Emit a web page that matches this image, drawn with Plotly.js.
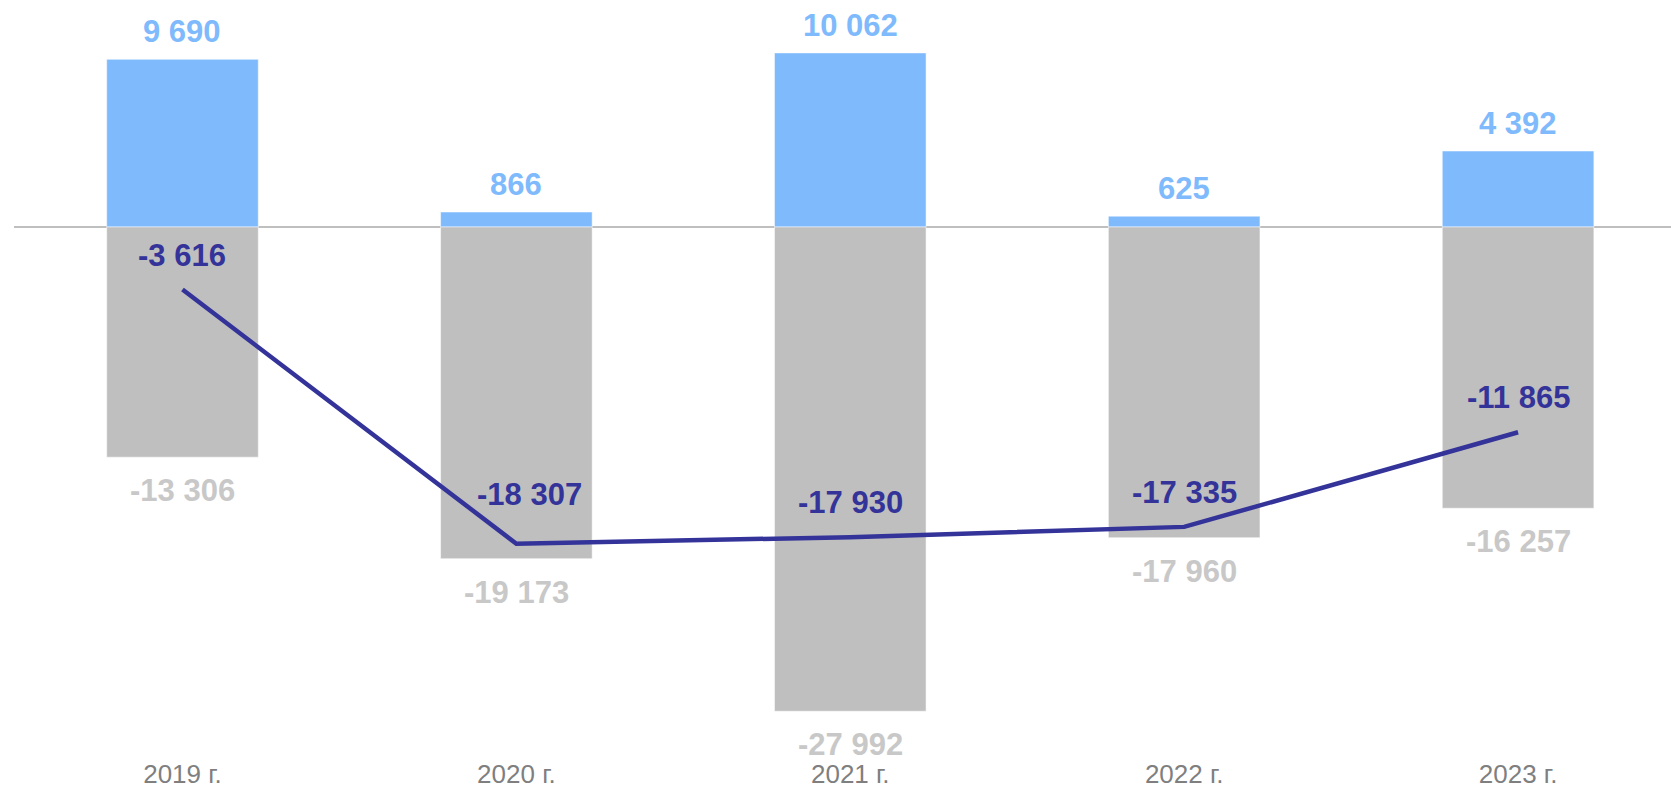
<!DOCTYPE html>
<html>
<head>
<meta charset="utf-8">
<script src="https://cdn.plot.ly/plotly-3.0.1.min.js"></script>
<style>
  html, body { margin: 0; padding: 0; background: #ffffff; }
  #chart { width: 1671px; height: 791px; }
</style>
</head>
<body>
<div id="chart"></div>
<script>
// ---- data ----
var categories = ['2019 г.', '2020 г.', '2021 г.', '2022 г.', '2023 г.'];
var positiveValues = [9690, 866, 10062, 625, 4392];
var negativeValues = [-13306, -19173, -27992, -17960, -16257];
var netValues = [-3616, -18307, -17930, -17335, -11865];

// ---- label nudges for the line labels (pixels) ----
var netLabelDx = [0, 13, 0, 0, 0];
var netLabelDy = [15, 30, 15, 15, 15];

function fmt(v) {
  var s = String(Math.abs(v)).replace(/\B(?=(\d{3})+(?!\d))/g, ' ');
  return (v < 0 ? '-' : '') + s;
}

var FONT = 'Liberation Sans, Arial, sans-serif';
var BLUE = '#7FBAFC';
var GREY = '#BFBFBF';
var GREY_TXT = '#C8C8C8';
var NAVY = '#333399';

var traces = [
  {
    type: 'bar', x: categories, y: positiveValues, width: 0.454,
    marker: { color: BLUE, line: { color: 'rgba(255,255,255,0.5)', width: 1 } },
    hoverinfo: 'skip', showlegend: false
  },
  {
    type: 'bar', x: categories, y: negativeValues, width: 0.454,
    marker: { color: GREY, line: { color: 'rgba(255,255,255,0.5)', width: 1 } },
    hoverinfo: 'skip', showlegend: false
  },
  {
    type: 'scatter', mode: 'lines', x: categories, y: netValues,
    line: { color: NAVY, width: 4.5 },
    hoverinfo: 'skip', showlegend: false
  }
];

var annotations = [];
categories.forEach(function (c, i) {
  annotations.push({
    x: c, y: positiveValues[i], xref: 'x', yref: 'y',
    text: fmt(positiveValues[i]), showarrow: false,
    yanchor: 'bottom', xanchor: 'center', yshift: 8,
    font: { family: FONT, size: 31, color: BLUE, weight: 'bold' }
  });
  annotations.push({
    x: c, y: negativeValues[i], xref: 'x', yref: 'y',
    text: fmt(negativeValues[i]), showarrow: false,
    yanchor: 'top', xanchor: 'center', yshift: -14,
    font: { family: FONT, size: 31, color: GREY_TXT, weight: 'bold' }
  });
  annotations.push({
    x: c, y: netValues[i], xref: 'x', yref: 'y',
    text: fmt(netValues[i]), showarrow: false,
    yanchor: 'bottom', xanchor: 'center',
    xshift: netLabelDx[i], yshift: netLabelDy[i],
    font: { family: FONT, size: 31, color: NAVY, weight: 'bold' }
  });
});

var layout = {
  width: 1671, height: 791,
  margin: { l: 14, r: 0, t: 0, b: 31 },
  paper_bgcolor: '#ffffff', plot_bgcolor: '#ffffff',
  barmode: 'overlay',
  showlegend: false,
  font: { family: FONT },
  xaxis: {
    type: 'category',
    range: [-0.5046, 4.458],
    showgrid: false, zeroline: false, showline: false, ticks: '',
    ticklabelstandoff: -4,
    tickfont: { family: FONT, size: 26, color: '#7F7F7F' },
    fixedrange: true
  },
  yaxis: {
    range: [-30810, 13121],
    showgrid: false, showticklabels: false, ticks: '', showline: false,
    zeroline: true, zerolinecolor: '#BFBFBF', zerolinewidth: 2,
    fixedrange: true
  },
  annotations: annotations
};

Plotly.newPlot('chart', traces, layout, { displayModeBar: false, staticPlot: true });
</script>
</body>
</html>
